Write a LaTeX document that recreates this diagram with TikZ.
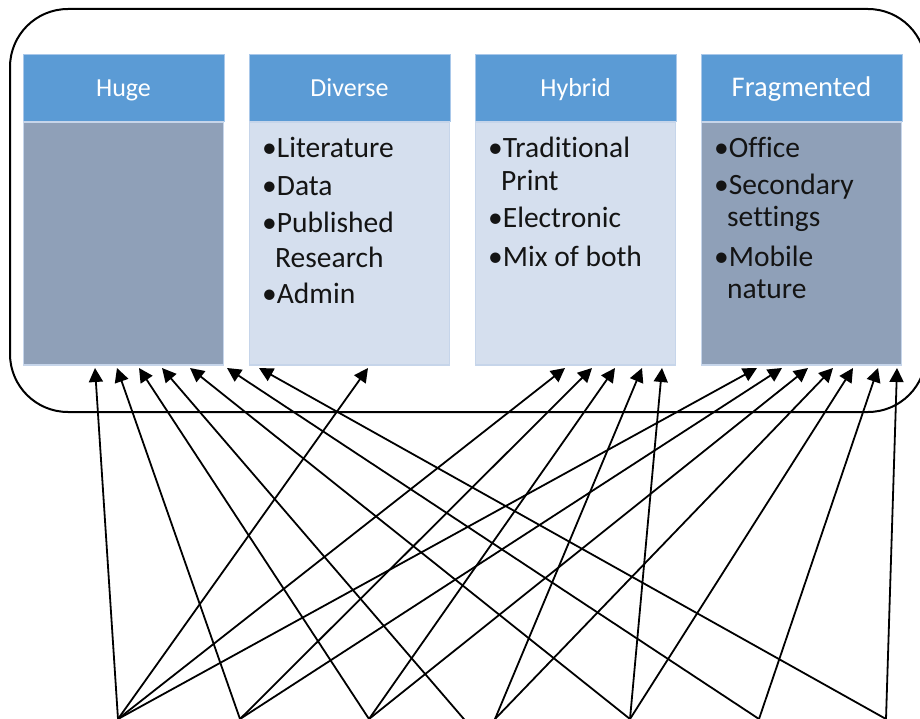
\documentclass[tikz,border=0pt]{standalone}
\usepackage{fontspec}
\setmainfont{Carlito}[Ligatures=NoCommon]
\usetikzlibrary{arrows.meta}
\definecolor{hdrblue}{HTML}{5B9BD5}
\definecolor{hdredge}{HTML}{A9C8EA}
\definecolor{lightbody}{HTML}{D5DFEE}
\definecolor{darkbody}{HTML}{8FA0B8}
\definecolor{bodyedge}{HTML}{C6D5EA}
\begin{document}
\begin{tikzpicture}[x=1pt,y=-1pt,
  hdr/.style={fill=hdrblue, draw=hdredge, line width=0.8pt, minimum width=201pt, minimum height=67pt, inner sep=0pt},
  bodylight/.style={fill=lightbody, draw=bodyedge, line width=1.5pt, minimum width=200pt, minimum height=243pt, inner sep=0pt},
  bodydark/.style={fill=darkbody, draw=bodyedge, line width=1.5pt, minimum width=200pt, minimum height=243pt, inner sep=0pt},
  hdrtext/.style={text=white, font=\fontsize{26}{30}\selectfont, anchor=base, inner sep=0pt},
  itemtext/.style={font=\fontsize{29.5}{34}\selectfont, anchor=base west, inner sep=0pt, text=black!92},
  conn/.style={draw=black, line width=1.8pt, -{Triangle[length=14pt,width=14pt]}}
]
\useasboundingbox (0,0) rectangle (920,719);
\clip (0,0) rectangle (920,719);
\fill[white] (0,0) rectangle (920,719);
% outer rounded frame
\draw[line width=2pt, rounded corners=58pt] (10,9) rectangle (926,412);

% headers
\node[hdr] (h1) at (123.5,87.5) {};
\node[hdr] (h2) at (349.5,87.5) {};
\node[hdr] (h3) at (575.5,87.5) {};
\node[hdr] (h4) at (801.5,87.5) {};
\node[hdrtext] (t1) at (123.5,97) {Huge};
\node[hdrtext] (t2) at (349.5,97) {Diverse};
\node[hdrtext] (t3) at (575.5,97) {Hybrid};
\node[hdrtext, font=\fontsize{28.5}{32}\selectfont] (t4) at (801.5,97) {Fragmented};

% bodies
\node[bodydark]  (d1) at (123.5,243.5) {};
\node[bodylight] (d2) at (349.5,243.5) {};
\node[bodylight] (d3) at (575.5,243.5) {};
\node[bodydark]  (d4) at (801.5,243.5) {};

% Diverse items
\node[itemtext] (i21) at (262,158) {•Literature};
\node[itemtext] (i22) at (262,196) {•Data};
\node[itemtext] (i23) at (262,233) {•Published};
\node[itemtext] (i24) at (275,267) {Research};
\node[itemtext] (i25) at (262,303) {•Admin};
% Hybrid items
\node[itemtext] (i31) at (488,158) {•Traditional};
\node[itemtext] (i32) at (501,191) {Print};
\node[itemtext] (i33) at (488,228) {•Electronic};
\node[itemtext] (i34) at (488,266) {•Mix of both};
% Fragmented items
\node[itemtext] (i41) at (714,158) {•Office};
\node[itemtext] (i42) at (714,195) {•Secondary};
\node[itemtext] (i43) at (727,227) {settings};
\node[itemtext] (i44) at (714,266) {•Mobile};
\node[itemtext] (i45) at (727,298) {nature};

% bottom sources
\coordinate (b1) at (118,719);
\coordinate (b2) at (240,719);
\coordinate (b3) at (369,719);
\coordinate (b4) at (495,719);
\coordinate (b5) at (630,719);
\coordinate (b6) at (759,719);
\coordinate (b7) at (886,719);
\coordinate (b8) at (506,768);

% arrow tips
\coordinate (u1) at (95,368);
\coordinate (u2) at (117,368);
\coordinate (u3) at (139,368);
\coordinate (u4) at (162,368);
\coordinate (u5) at (190,368);
\coordinate (u6) at (227,368);
\coordinate (u7) at (259,368);
\coordinate (v1) at (368,368);
\coordinate (w1) at (565,368);
\coordinate (w2) at (592,368);
\coordinate (w3) at (615,368);
\coordinate (w4) at (642,368);
\coordinate (w5) at (662,368);
\coordinate (f1) at (757,368);
\coordinate (f2) at (782,368);
\coordinate (f3) at (808,368);
\coordinate (f4) at (833,368);
\coordinate (f5) at (853,368);
\coordinate (f6) at (878,368);
\coordinate (f7) at (897,368);

% connectors
\draw[conn] (b1) -- (u1);
\draw[conn] (b1) -- (v1);
\draw[conn] (b1) -- (w1);
\draw[conn] (b1) -- (f1);
\draw[conn] (b2) -- (u2);
\draw[conn] (b2) -- (w2);
\draw[conn] (b2) -- (f2);
\draw[conn] (b3) -- (u3);
\draw[conn] (b3) -- (w3);
\draw[conn] (b3) -- (f3);
\draw[conn] (b8) -- (u4);
\draw[conn] (b4) -- (w4);
\draw[conn] (b4) -- (f4);
\draw[conn] (b5) -- (u5);
\draw[conn] (b5) -- (w5);
\draw[conn] (b5) -- (f5);
\draw[conn] (b6) -- (u6);
\draw[conn] (b6) -- (f6);
\draw[conn] (b7) -- (u7);
\draw[conn] (b7) -- (f7);
\end{tikzpicture}
\end{document}
